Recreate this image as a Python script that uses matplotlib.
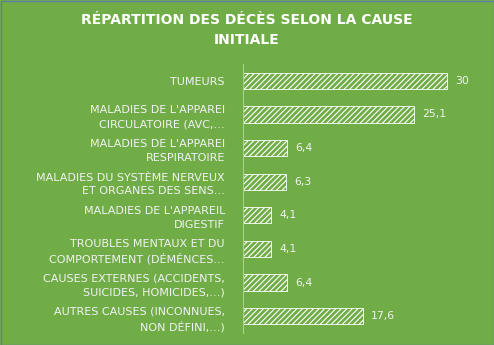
import matplotlib
matplotlib.use("Agg")
import matplotlib.pyplot as plt

categories = [
    "TUMEURS",
    "MALADIES DE L'APPAREI\nCIRCULATOIRE (AVC,…",
    "MALADIES DE L'APPAREI\nRESPIRATOIRE",
    "MALADIES DU SYSTÈME NERVEUX\nET ORGANES DES SENS…",
    "MALADIES DE L'APPAREIL\nDIGESTIF",
    "TROUBLES MENTAUX ET DU\nCOMPORTEMENT (DÉMÉNCES…",
    "CAUSES EXTERNES (ACCIDENTS,\nSUICIDES, HOMICIDES,…)",
    "AUTRES CAUSES (INCONNUES,\nNON DÉFINI,…)",
]
values = [30, 25.1, 6.4, 6.3, 4.1, 4.1, 6.4, 17.6]
value_labels = ["30", "25,1", "6,4", "6,3", "4,1", "4,1", "6,4", "17,6"]
title = "RÉPARTITION DES DÉCÈS SELON LA CAUSE\nINITIALE"

green = "#70AD47"
txt = "#F2F2F2"
plt.rcParams['hatch.color'] = 'white'
plt.rcParams['hatch.linewidth'] = 0.8

W, H = 494, 345
fig = plt.figure(figsize=(W / 100, H / 100), dpi=100, facecolor=green)
ax = fig.add_axes([243 / W, 1 - 333 / H, (481 - 243) / W, (333 - 64) / H])
ax.set_facecolor(green)

y = list(range(len(categories)))
ax.barh(y, values, height=0.48, color=green, edgecolor="white",
        hatch="//////", linewidth=0.6)
ax.set_ylim(len(categories) - 0.5, -0.5)
ax.set_xlim(0, 35)
ax.set_yticks(y)
ax.set_yticklabels(categories, fontsize=8, color=txt, linespacing=1.45)
ax.tick_params(axis="y", length=0, pad=13)
ax.set_xticks([])
for s in ["top", "right", "bottom"]:
    ax.spines[s].set_visible(False)
ax.spines["left"].set_color("#A9D18E")
ax.spines["left"].set_linewidth(0.8)

for yi, v, lab in zip(y, values, value_labels):
    ax.annotate(lab, (v, yi), xytext=(6, 0), textcoords="offset points",
                va="center", ha="left", fontsize=7.8, color=txt)

fig.text(0.5, 1 - 30 / H, title, ha="center", va="center", fontsize=10,
         fontweight="bold", color="white", linespacing=1.6)

border = plt.Rectangle((0.5 / W, 0.5 / H), 1 - 1 / W, 1 - 1 / H,
                       transform=fig.transFigure, fill=False,
                       edgecolor="#5B7FA6", linewidth=1)
fig.patches.append(border)

fig.savefig("out.png", dpi=100, facecolor=green)
